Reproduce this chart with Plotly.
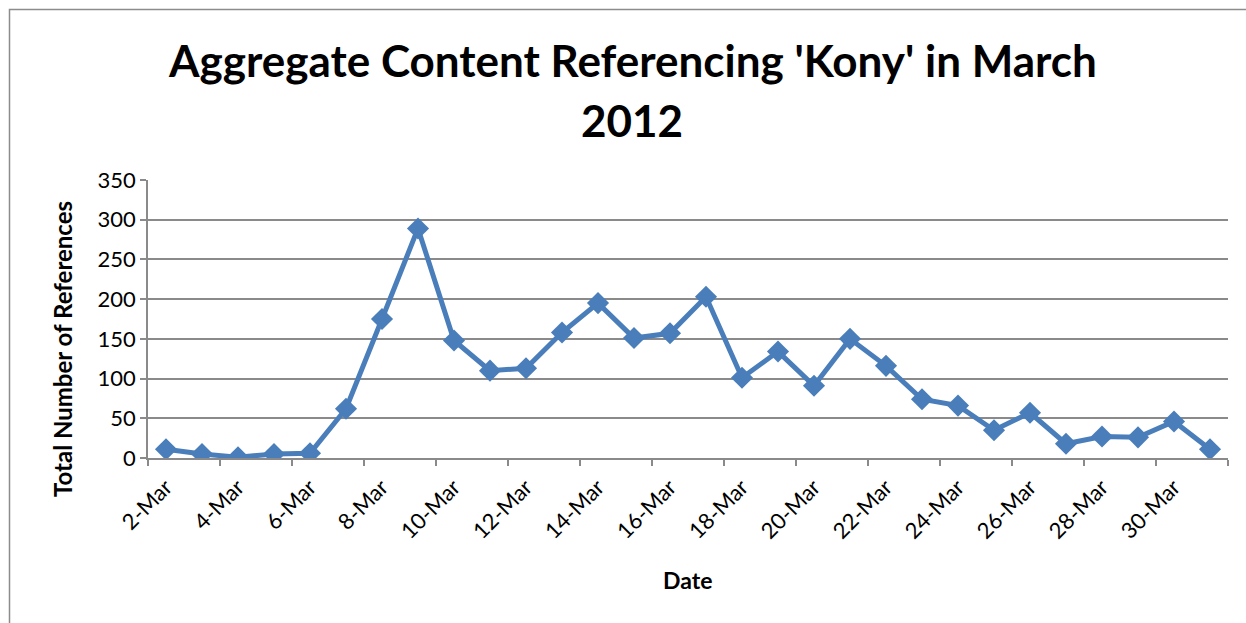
import plotly.graph_objects as go

dates = [f"{d}-Mar" for d in range(2, 32)]
references = [11, 5, 1, 5, 6, 62, 175, 289, 148, 110, 113, 158, 195, 151, 157,
              203, 101, 134, 91, 150, 116, 74, 66, 35, 57, 18, 27, 26, 46, 11]
y_ticks = [0, 50, 100, 150, 200, 250, 300, 350]
title_lines = ["Aggregate Content Referencing 'Kony' in March", "2012"]
y_title = "Total Number of References"
x_title = "Date"

x_idx = list(range(len(dates)))
label_idx = x_idx[::2]
label_text = [dates[i] for i in label_idx]
boundaries = [i - 0.5 for i in range(0, len(dates) + 1, 2)]

FONT = "Lato"
GRID = "#8a8a8a"
PLOT_TOP, PLOT_BOTTOM, PLOT_LEFT, PLOT_W = 180, 458, 148, 1080
PLOT_H = PLOT_BOTTOM - PLOT_TOP


def py(pix):
    return (PLOT_BOTTOM - pix) / PLOT_H


def px(pix):
    return (pix - PLOT_LEFT) / PLOT_W


fig = go.Figure()
fig.add_trace(go.Scatter(
    x=x_idx, y=references, mode="lines+markers",
    line=dict(color="#4a7ebb", width=5),
    marker=dict(symbol="diamond", size=17, color="#4a7ebb"),
    showlegend=False, hoverinfo="skip",
))

title_font = dict(family=FONT, size=44, color="black", weight="bold")
annotations = [
    dict(text=title_lines[0], xref="paper", yref="paper", x=px(632), y=py(60),
         xanchor="center", yanchor="middle", showarrow=False, font=title_font),
    dict(text=title_lines[1], xref="paper", yref="paper", x=px(632), y=py(120),
         xanchor="center", yanchor="middle", showarrow=False, font=title_font),
    dict(text=y_title, xref="paper", yref="paper", x=px(62), y=py(349),
         xanchor="center", yanchor="middle", showarrow=False, textangle=-90,
         font=dict(family=FONT, size=24, color="black", weight="bold")),
    dict(text=x_title, xref="paper", yref="paper", x=px(687), y=py(580),
         xanchor="center", yanchor="middle", showarrow=False,
         font=dict(family=FONT, size=23, color="black", weight="bold")),
]

fig.update_layout(
    width=1246, height=623,
    margin=dict(l=148, r=18, t=180, b=165),
    paper_bgcolor="white", plot_bgcolor="white",
    font=dict(family=FONT, color="black"),
    annotations=annotations,
    xaxis=dict(
        range=[-0.5, len(dates) - 0.5],
        tickmode="array", tickvals=label_idx, ticktext=label_text,
        tickangle=-45, ticks="outside", ticklen=6, tickcolor="rgba(0,0,0,0)",
        tickfont=dict(family=FONT, size=22, color="black"),
        showgrid=False, zeroline=False,
        showline=True, linecolor=GRID, linewidth=1.5,
        minor=dict(tickmode="array", tickvals=boundaries, ticks="outside",
                   ticklen=6, tickcolor=GRID, tickwidth=1.5, showgrid=False),
    ),
    yaxis=dict(
        range=[0, 350], tickmode="array", tickvals=y_ticks,
        ticks="outside", ticklen=6, tickcolor=GRID, tickwidth=1.5,
        tickfont=dict(family=FONT, size=22, color="black"),
        showgrid=True, gridcolor=GRID, gridwidth=1.5, zeroline=False,
        showline=True, linecolor=GRID, linewidth=1.5,
    ),
    shapes=[dict(type="rect", xref="paper", yref="paper",
                 x0=px(9.5), x1=px(1300), y0=py(700), y1=py(9.5),
                 line=dict(color="#8c8c8c", width=1.5), layer="below")],
)

fig.write_html("out.html")
